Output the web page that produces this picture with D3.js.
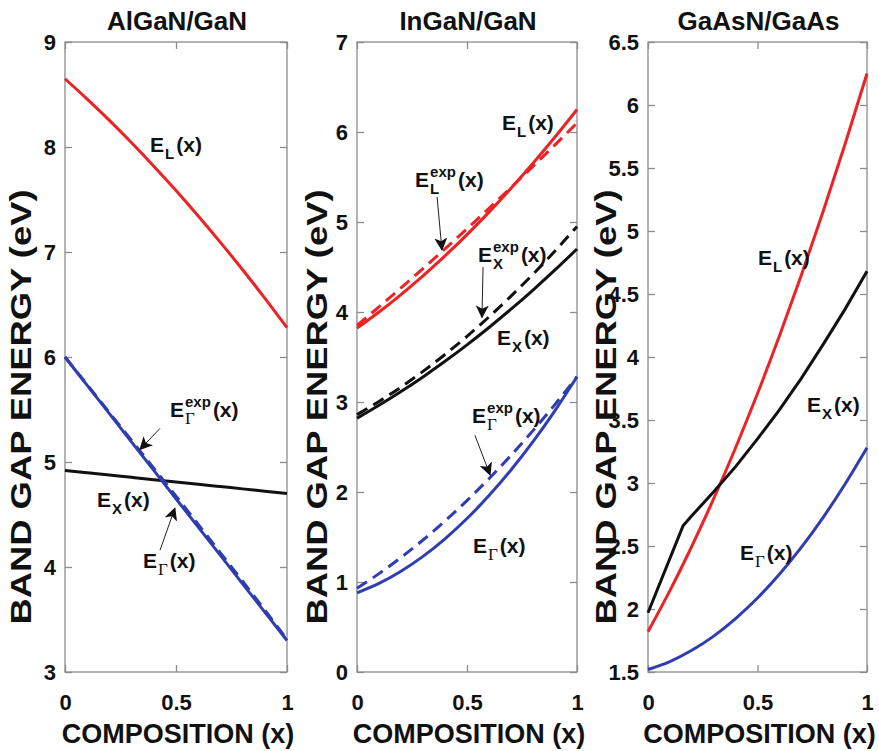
<!DOCTYPE html>
<html>
<head>
<meta charset="utf-8">
<script src="https://cdn.jsdelivr.net/npm/d3@7"></script>
<style>
body { margin: 0; background: #fff; }
text { font-family: "Liberation Sans", Arial, sans-serif; font-weight: bold; fill: #111; }
.frame { fill: none; stroke: #8c8c8c; stroke-width: 1.3; }
.axis path { display: none; }
.axis line { stroke: #8c8c8c; stroke-width: 1.3; }
.axis text { font-family: "Liberation Sans", Arial, sans-serif; font-weight: bold; font-size: 22px; fill: #111; }
.curve { fill: none; stroke-width: 3; }
.lab { font-size: 21px; }
.lab-small { font-size: 15px; }
.greek { font-family: "Liberation Serif", "DejaVu Serif", serif; font-weight: normal; font-size: 17px; }
.pointer { stroke: #222; stroke-width: 1; }
</style>
</head>
<body>
<div class="content"></div>
<script>
// DATA
var comp = [0, 0.1, 0.2, 0.3, 0.4, 0.5, 0.6, 0.7, 0.8, 0.9, 1];

// AlGaN/GaN
var algan_L   = [8.65, 8.456, 8.253, 8.04, 7.817, 7.585, 7.343, 7.092, 6.831, 6.56, 6.28];
var algan_X   = [4.92, 4.898, 4.876, 4.854, 4.832, 4.81, 4.788, 4.766, 4.744, 4.722, 4.70];
var algan_G   = [6.00, 5.73, 5.46, 5.19, 4.92, 4.65, 4.38, 4.11, 3.84, 3.57, 3.30];
var algan_Gex = [6.00, 5.735, 5.47, 5.205, 4.94, 4.675, 4.405, 4.135, 3.865, 3.59, 3.31];

// InGaN/GaN
var ingan_L   = [3.82, 4.00, 4.194, 4.402, 4.624, 4.86, 5.11, 5.374, 5.652, 5.944, 6.25];
var ingan_Lex = [3.85, 4.057, 4.268, 4.483, 4.702, 4.925, 5.152, 5.383, 5.618, 5.857, 6.10];
var ingan_X   = [2.82, 2.963, 3.116, 3.279, 3.452, 3.635, 3.828, 4.031, 4.244, 4.467, 4.70];
var ingan_Xex = [2.86, 3.006, 3.166, 3.34, 3.528, 3.73, 3.946, 4.176, 4.42, 4.678, 4.95];
var ingan_G   = [0.88, 0.985, 1.12, 1.285, 1.48, 1.705, 1.96, 2.245, 2.56, 2.905, 3.28];
var ingan_Gex = [0.93, 1.093, 1.272, 1.467, 1.678, 1.905, 2.148, 2.407, 2.682, 2.973, 3.28];

// GaAsN/GaAs
var gaasn_L = [1.82, 2.146, 2.498, 2.876, 3.28, 3.71, 4.166, 4.648, 5.156, 5.69, 6.25];
var gaasn_X_comp = [0, 0.16, 0.2, 0.3, 0.4, 0.5, 0.6, 0.7, 0.8, 0.9, 1];
var gaasn_X = [1.97, 2.66, 2.74, 2.93, 3.13, 3.35, 3.58, 3.83, 4.10, 4.38, 4.68];
var gaasn_G = [1.52, 1.583, 1.672, 1.785, 1.924, 2.087, 2.276, 2.489, 2.728, 2.992, 3.28];

var titles = ['AlGaN/GaN', 'InGaN/GaN', 'GaAsN/GaAs'];
var yDomains = [[3, 9], [0, 7], [1.5, 6.5]];
var yTicks = [
    [3, 4, 5, 6, 7, 8, 9],
    [0, 1, 2, 3, 4, 5, 6, 7],
    [1.5, 2, 2.5, 3, 3.5, 4, 4.5, 5, 5.5, 6, 6.5]
];
var xTicks = [0, 0.5, 1];


// LAYOUT
var w = 879, h = 751,
    plotTop = 42, plotBottom = 672,
    lefts = [65, 357, 648],
    rights = [287, 577, 867],
    ylabX = [20, 316, 605];

var red = '#ec2224', blue = '#2f3db0', black = '#111';

var svg = d3.select('.content').append('svg')
    .attr('width', w)
    .attr('height', h);

svg.append('defs').append('marker')
    .attr('id', 'head')
    .attr('viewBox', '0 0 12 12')
    .attr('refX', 11).attr('refY', 6)
    .attr('markerWidth', 13).attr('markerHeight', 13)
    .attr('markerUnits', 'userSpaceOnUse')
    .attr('orient', 'auto')
    .append('path')
    .attr('d', 'M0,0 L12,6 L0,12 L3,6 Z')
    .attr('fill', '#111');


// PANELS
var panels = titles.map(function(t, i) {
    var x = d3.scaleLinear().domain([0, 1]).range([lefts[i], rights[i]]);
    var y = d3.scaleLinear().domain(yDomains[i]).range([plotBottom, plotTop]);
    var g = svg.append('g');

    g.append('g').attr('class', 'axis')
        .attr('transform', 'translate(' + lefts[i] + ',0)')
        .call(d3.axisLeft(y).tickValues(yTicks[i]).tickSizeInner(-7).tickSizeOuter(0).tickPadding(9)
            .tickFormat(function(d) { return d3.format('')(d); }));

    g.append('g').attr('class', 'axis')
        .attr('transform', 'translate(' + rights[i] + ',0)')
        .call(d3.axisRight(y).tickValues(yTicks[i]).tickSizeInner(-7).tickSizeOuter(0).tickFormat(''));

    g.append('g').attr('class', 'axis')
        .attr('transform', 'translate(0,' + plotBottom + ')')
        .call(d3.axisBottom(x).tickValues(xTicks).tickSizeInner(-7).tickSizeOuter(0).tickPadding(22)
            .tickFormat(function(d) { return d3.format('')(d); }));

    g.append('g').attr('class', 'axis')
        .attr('transform', 'translate(0,' + plotTop + ')')
        .call(d3.axisTop(x).tickValues(xTicks).tickSizeInner(-7).tickSizeOuter(0).tickFormat(''));

    g.append('rect').attr('class', 'frame')
        .attr('x', lefts[i]).attr('y', plotTop)
        .attr('width', rights[i] - lefts[i]).attr('height', plotBottom - plotTop);

    var cx = (lefts[i] + rights[i]) / 2;
    g.append('text')
        .attr('x', cx + 1).attr('y', 30)
        .attr('text-anchor', 'middle')
        .style('font-size', '26px')
        .text(t);

    g.append('text')
        .attr('x', cx + 2).attr('y', 743)
        .attr('text-anchor', 'middle')
        .style('font-size', '27px')
        .text('COMPOSITION (x)');

    g.append('text')
        .attr('transform', 'translate(' + (ylabX[i] + 11) + ',407) rotate(-90)')
        .attr('text-anchor', 'middle')
        .attr('textLength', 435)
        .attr('lengthAdjust', 'spacingAndGlyphs')
        .style('font-size', '30px')
        .text('BAND GAP ENERGY (eV)');

    return { g: g, x: x, y: y };
});


// CURVES
function curve(p, xs, ys, color, dashed, linear) {
    var line = d3.line()
        .x(function(d) { return p.x(d[0]); })
        .y(function(d) { return p.y(d[1]); })
        .curve(linear ? d3.curveLinear : d3.curveNatural);
    p.g.append('path')
        .attr('class', 'curve')
        .attr('d', line(d3.zip(xs, ys)))
        .attr('stroke', color)
        .attr('stroke-dasharray', dashed ? '12,7' : null);
}

curve(panels[0], comp, algan_L, red);
curve(panels[0], comp, algan_X, black);
curve(panels[0], comp, algan_Gex, blue, true);
curve(panels[0], comp, algan_G, blue);

curve(panels[1], comp, ingan_Lex, red, true);
curve(panels[1], comp, ingan_L, red);
curve(panels[1], comp, ingan_Xex, black, true);
curve(panels[1], comp, ingan_X, black);
curve(panels[1], comp, ingan_Gex, blue, true);
curve(panels[1], comp, ingan_G, blue);

curve(panels[2], comp, gaasn_L, red);
curve(panels[2], gaasn_X_comp, gaasn_X, black, false, true);
curve(panels[2], comp, gaasn_G, blue);


// LABELS (positions given in data units)
function bandLabel(p, cx, e, sub, sup) {
    var x = p.x(cx), y = p.y(e);
    var t = p.g.append('text').attr('class', 'lab').attr('x', x).attr('y', y).text('E');
    var sx = x + t.node().getComputedTextLength() + 1;
    var s = p.g.append('text')
        .attr('class', sub === 'Γ' ? 'greek' : 'lab-small')
        .attr('x', sx).attr('y', y + 7).text(sub);
    var ws = s.node().getComputedTextLength(), wp = 0;
    if (sup) {
        var u = p.g.append('text').attr('class', 'lab-small')
            .attr('x', sx).attr('y', y - 10).text(sup);
        wp = u.node().getComputedTextLength();
    }
    p.g.append('text').attr('class', 'lab')
        .attr('x', sx + Math.max(ws, wp) + 2).attr('y', y).text('(x)');
}

function pointer(p, x1, y1, x2, y2) {
    p.g.append('line').attr('class', 'pointer')
        .attr('x1', p.x(x1)).attr('y1', p.y(y1))
        .attr('x2', p.x(x2)).attr('y2', p.y(y2))
        .attr('marker-end', 'url(#head)');
}

bandLabel(panels[0], 0.383, 7.95, 'L');
bandLabel(panels[0], 0.473, 5.43, 'Γ', 'exp');
pointer(panels[0], 0.428, 5.32, 0.338, 5.12);
bandLabel(panels[0], 0.144, 4.57, 'X');
bandLabel(panels[0], 0.351, 3.99, 'Γ');
pointer(panels[0], 0.428, 4.16, 0.495, 4.56);

bandLabel(panels[1], 0.659, 6.02, 'L');
bandLabel(panels[1], 0.264, 5.39, 'L', 'exp');
pointer(panels[1], 0.364, 5.28, 0.386, 4.69);
bandLabel(panels[1], 0.55, 4.56, 'X', 'exp');
pointer(panels[1], 0.573, 4.50, 0.568, 3.94);
bandLabel(panels[1], 0.636, 3.63, 'X');
bandLabel(panels[1], 0.523, 2.77, 'Γ', 'exp');
pointer(panels[1], 0.536, 2.63, 0.605, 2.19);
bandLabel(panels[1], 0.527, 1.32, 'Γ');

bandLabel(panels[2], 0.502, 4.73, 'L');
bandLabel(panels[2], 0.726, 3.56, 'X');
bandLabel(panels[2], 0.42, 2.39, 'Γ');
</script>
</body>
</html>
